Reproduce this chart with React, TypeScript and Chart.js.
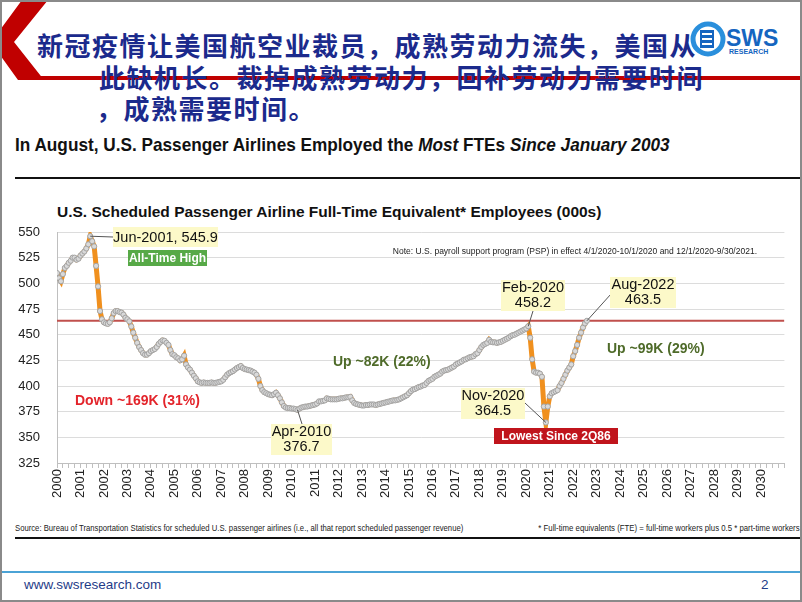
import React, { useEffect, useRef } from 'react';
import { Chart, registerables } from 'chart.js';

Chart.register(...registerables);

// ---- Data (thousands of FTEs, monthly, Jan..Dec) ----
const fte2000 = [510, 505, 502, 509, 515, 517, 520, 522, 525, 525, 523, 524];
const fte2001 = [527, 529, 531, 534, 538, 545.9, 541, 536, 517, 497, 473, 465];
const fte2002 = [462, 461, 460.5, 462, 466, 471, 473, 473, 472, 471.5, 469.5, 466.5];
const fte2003 = [465, 463, 458, 452, 447, 442, 438, 435, 432, 430.5, 430.5, 432];
const fte2004 = [434, 435, 436, 438, 441, 443, 444.5, 444, 442, 440, 435, 431];
const fte2005 = [430, 428, 427, 425, 426, 429.5, 421, 418, 416, 413, 410, 407.5];
const fte2006 = [404.5, 403.5, 403, 403.5, 403, 403, 403, 403.5, 403, 403, 403.5, 404];
const fte2007 = [404.5, 406, 408.5, 411, 412.5, 413.5, 414.5, 416, 417.5, 418.5, 419.5, 417.5];
const fte2008 = [416.5, 416, 415.5, 415, 414, 413, 411, 407, 400, 396, 394, 393];
const fte2009 = [392, 391.5, 391, 392, 393.5, 391, 388, 384, 380.5, 379, 378.5, 378.5];
const fte2010 = [378, 378, 377.5, 376.7, 378, 379, 379.5, 380, 380, 380.5, 381, 381.5];
const fte2011 = [382, 383, 385, 385, 385.5, 386, 388, 387.5, 387, 387, 387, 387];
const fte2012 = [387.5, 388, 388, 388.5, 389, 389, 389.5, 386, 383.5, 382.5, 382, 381.5];
const fte2013 = [381, 381, 381.5, 381.5, 382, 382, 382, 381.5, 382, 382.5, 383, 383.5];
const fte2014 = [384, 384.5, 385, 385.5, 386, 386, 386.5, 387, 388, 389, 390, 391];
const fte2015 = [393, 395, 396.5, 397, 398, 399, 399.5, 400.5, 401, 403, 405, 406];
const fte2016 = [407, 409, 410, 411, 412, 414, 415, 415.5, 416, 417, 418, 419];
const fte2017 = [421, 422, 423, 424, 425.5, 426, 427, 428, 428.5, 429, 431, 432];
const fte2018 = [435, 438, 440, 441, 442, 445, 443, 442.5, 442.5, 442, 442.5, 443];
const fte2019 = [444, 445, 446, 447, 448.5, 449.5, 450, 451, 452, 453, 454, 455];
const fte2020 = [456, 458.2, 447, 426, 414, 413, 413, 412, 409, 380, 364.5, 380];
const fte2021 = [390, 393, 394, 395, 396, 400, 403, 407, 411, 415, 418, 421];
const fte2022 = [429, 434, 440, 447, 452, 457, 461, 463.5];

const yearlySeries: [number, number[]][] = [
  [2000, fte2000], [2001, fte2001], [2002, fte2002], [2003, fte2003], [2004, fte2004],
  [2005, fte2005], [2006, fte2006], [2007, fte2007], [2008, fte2008], [2009, fte2009],
  [2010, fte2010], [2011, fte2011], [2012, fte2012], [2013, fte2013], [2014, fte2014],
  [2015, fte2015], [2016, fte2016], [2017, fte2017], [2018, fte2018], [2019, fte2019],
  [2020, fte2020], [2021, fte2021], [2022, fte2022],
];

const referenceLevel = 463.5; // Aug-2022 level line
const xMin = 2000;
const xMax = 2031;
const yMin = 325;
const yMax = 550;
const yStep = 25;
const lastYearLabel = 2030;

// labelled points
const calloutPoints: { key: string; l1: string; l2: string; year: number; m: number; v: number }[] = [
  { key: 'peak', l1: 'Jun-2001, 545.9', l2: '', year: 2001, m: 5, v: 545.9 },
  { key: 'apr10', l1: 'Apr-2010', l2: '376.7', year: 2010, m: 3, v: 376.7 },
  { key: 'feb20', l1: 'Feb-2020', l2: '458.2', year: 2020, m: 1, v: 458.2 },
  { key: 'nov20', l1: 'Nov-2020', l2: '364.5', year: 2020, m: 10, v: 364.5 },
  { key: 'aug22', l1: 'Aug-2022', l2: '463.5', year: 2022, m: 7, v: 463.5 },
];

const CANVAS_TOP = 190;
const CANVAS_W = 801;
const CANVAS_H = 330;
const FONT = '"Liberation Sans", Arial, sans-serif';

// box layouts in page coordinates
const boxLayout: Record<string, { x: number; y: number; w: number; h: number; lx: number; ly: number }> = {
  peak: { x: 113, y: 227, w: 105, h: 20, lx: 113, ly: 237 },
  apr10: { x: 271, y: 424, w: 61, h: 31, lx: 302, ly: 424 },
  feb20: { x: 501, y: 280, w: 64, h: 31, lx: 533, ly: 311 },
  nov20: { x: 461, y: 388, w: 64, h: 31, lx: 525, ly: 403 },
  aug22: { x: 610, y: 277, w: 66, h: 31, lx: 611, ly: 294 },
};

const calloutPlugin = {
  id: 'callouts',
  afterDatasetsDraw(chart: any) {
    const ctx = chart.ctx as CanvasRenderingContext2D;
    const xs = chart.scales.x;
    const ys = chart.scales.y;
    const T = CANVAS_TOP;
    ctx.save();
    ctx.fillStyle = '#222';
    ctx.font = `8.5px ${FONT}`;
    ctx.textBaseline = 'middle';
    ctx.textAlign = 'right';
    ctx.fillText('Note: U.S. payroll support program (PSP) in effect 4/1/2020-10/1/2020 and 12/1/2020-9/30/2021.', 757, 252 - T);

    for (const c of calloutPoints) {
      const b = boxLayout[c.key];
      const px = xs.getPixelForValue(c.year + c.m / 12);
      const py = ys.getPixelForValue(c.v);
      ctx.strokeStyle = '#555';
      ctx.lineWidth = 1;
      ctx.beginPath();
      ctx.moveTo(px, py);
      ctx.lineTo(b.lx, b.ly - T);
      ctx.stroke();
      ctx.fillStyle = '#FCF9C9';
      ctx.fillRect(b.x, b.y - T, b.w, b.h);
      ctx.fillStyle = '#111';
      ctx.font = `14.5px ${FONT}`;
      ctx.textAlign = 'center';
      ctx.textBaseline = 'middle';
      const cx = b.x + b.w / 2;
      const cy = b.y - T + b.h / 2;
      if (c.l2) {
        ctx.fillText(c.l1, cx, cy - 7.5);
        ctx.fillText(c.l2, cx, cy + 7.5);
      } else {
        ctx.fillText(c.l1, cx, cy + 0.5);
      }
    }

    const tag = (text: string, x: number, y: number, w: number, h: number, fill: string) => {
      ctx.fillStyle = fill;
      ctx.fillRect(x, y - T, w, h);
      ctx.fillStyle = '#fff';
      ctx.font = `bold 12px ${FONT}`;
      ctx.textAlign = 'center';
      ctx.textBaseline = 'middle';
      ctx.fillText(text, x + w / 2, y - T + h / 2 + 0.5);
    };
    tag('All-Time High', 128, 250, 79, 16, '#57A947');
    tag('Lowest Since 2Q86', 494, 428, 124, 16, '#C0141C');

    ctx.textAlign = 'left';
    ctx.textBaseline = 'middle';
    ctx.font = `bold 14px ${FONT}`;
    ctx.fillStyle = '#4F6B2A';
    ctx.fillText('Up ~82K (22%)', 333, 362 - T);
    ctx.fillText('Up ~99K (29%)', 607, 349 - T);
    ctx.fillStyle = '#E3242B';
    ctx.fillText('Down ~169K (31%)', 75, 401 - T);
    ctx.restore();
  },
};

function buildPoints() {
  const pts: { x: number; y: number }[] = [];
  for (const [yr, vals] of yearlySeries) {
    vals.forEach((v, m) => pts.push({ x: yr + m / 12, y: v }));
  }
  return pts;
}

export default function App() {
  const ref = useRef<HTMLCanvasElement>(null);
  useEffect(() => {
    const chart = new Chart(ref.current as HTMLCanvasElement, {
      type: 'line',
      data: {
        datasets: [
          {
            data: buildPoints(),
            borderColor: '#F0901E',
            borderWidth: 5,
            pointRadius: 2.6,
            pointBackgroundColor: '#D9D9D9',
            pointBorderColor: '#A3A3A3',
            pointBorderWidth: 1,
            tension: 0,
            order: 0,
          },
          {
            data: [{ x: xMin, y: referenceLevel }, { x: xMax, y: referenceLevel }],
            borderColor: '#C0504D',
            borderWidth: 2,
            pointRadius: 0,
            order: 1,
          },
        ],
      },
      options: {
        responsive: false,
        animation: false,
        layout: { padding: { top: 42, right: 1, left: 0, bottom: 0 } },
        plugins: { legend: { display: false }, tooltip: { enabled: false } },
        scales: {
          x: {
            type: 'linear',
            min: xMin,
            max: xMax,
            afterFit: (s: any) => { s.height = 57; },
            ticks: {
              stepSize: 0.25,
              maxTicksLimit: 200,
              autoSkip: false,
              minRotation: 90,
              maxRotation: 90,
              padding: 1,
              color: '#222',
              font: { family: FONT, size: 13 },
              callback: (v: any) => (Number.isInteger(v) && v <= lastYearLabel ? String(v) : ''),
            },
            grid: { display: true, drawOnChartArea: false, drawTicks: true, tickLength: 5, color: '#BFBFBF' },
            border: { display: true, color: '#BFBFBF' },
          },
          y: {
            min: yMin,
            max: yMax,
            afterFit: (s: any) => { s.width = 57; },
            ticks: {
              stepSize: yStep,
              padding: 17,
              color: '#222',
              font: { family: FONT, size: 13 },
            },
            grid: { color: '#DCDCDC', drawTicks: false },
            border: { display: true, color: '#BFBFBF' },
          },
        },
      },
      plugins: [calloutPlugin],
    } as any);
    return () => chart.destroy();
  }, []);

  const cn: React.CSSProperties = {
    position: 'absolute',
    fontFamily: '"Noto Sans CJK SC", sans-serif',
    fontSize: 26,
    fontWeight: 'bold',
    letterSpacing: 1.5,
    color: '#1B2A8C',
    lineHeight: '30px',
    whiteSpace: 'nowrap',
  };
  const squeeze = (sx: number): React.CSSProperties => ({ transform: `scaleX(${sx})`, transformOrigin: 'left center' });
  const squeezeR = (sx: number): React.CSSProperties => ({ transform: `scaleX(${sx})`, transformOrigin: 'right center' });

  return (
    <div style={{ position: 'absolute', left: 0, top: 0, width: 802, height: 602, background: '#fff', overflow: 'hidden', fontFamily: FONT }}>
      <svg width={802} height={90} style={{ position: 'absolute', left: 0, top: 0 }}>
        <polygon points="22,0 48,0 14,42 44,80 18,80 0,55 0,30" fill="#C00000" />
        <rect x={30} y={76} width={772} height={4} fill="#C00000" />
      </svg>
      <div style={{ ...cn, left: 37, top: 30 }}>新冠疫情让美国航空业裁员，成熟劳动力流失，美国从</div>
      <div style={{ ...cn, left: 99, top: 62 }}>此缺机长。裁掉成熟劳动力，回补劳动力需要时间</div>
      <div style={{ ...cn, left: 96, top: 93 }}>，成熟需要时间。</div>
      <svg width={110} height={50} style={{ position: 'absolute', left: 684, top: 16 }}>
        <circle cx={24} cy={23} r={17} fill="#fff" />
        <circle cx={24} cy={23} r={15} fill="none" stroke="#2A8FDC" strokeWidth={5} />
        <rect x={16} y={14} width={14} height={18} fill="#1565C0" />
        <rect x={18} y={17} width={10} height={2} fill="#fff" />
        <rect x={18} y={22} width={10} height={2} fill="#fff" />
        <rect x={18} y={27} width={10} height={2} fill="#fff" />
        <text x={42} y={30} fontFamily={FONT} fontWeight="bold" fontSize={23} fill="#1565C0">SWS</text>
        <text x={45} y={38} fontFamily={FONT} fontWeight="bold" fontSize={7} fill="#1565C0">RESEARCH</text>
      </svg>

      <div style={{ position: 'absolute', left: 15, top: 133, fontWeight: 'bold', fontSize: 18.5, color: '#111', whiteSpace: 'nowrap', lineHeight: '24px', ...squeeze(0.93) }}>
        In August, U.S. Passenger Airlines Employed the <i>Most</i> FTEs <i>Since January 2003</i>
      </div>
      <div style={{ position: 'absolute', left: 15, top: 177, width: 787, height: 2, background: '#111' }} />
      <div style={{ position: 'absolute', left: 57, top: 202, fontWeight: 'bold', fontSize: 15.5, color: '#111', whiteSpace: 'nowrap', lineHeight: '20px' }}>
        U.S. Scheduled Passenger Airline Full-Time Equivalent* Employees (000s)
      </div>

      <canvas ref={ref} width={CANVAS_W} height={CANVAS_H} style={{ position: 'absolute', left: 0, top: CANVAS_TOP, width: CANVAS_W, height: CANVAS_H }} />

      <div style={{ position: 'absolute', left: 15, top: 522, fontSize: 9.5, color: '#222', whiteSpace: 'nowrap', lineHeight: '12px', ...squeeze(0.81) }}>
        Source: Bureau of Transportation Statistics for scheduled U.S. passenger airlines (i.e., all that report scheduled passenger revenue)
      </div>
      <div style={{ position: 'absolute', right: 2, top: 522, fontSize: 9.5, color: '#222', whiteSpace: 'nowrap', lineHeight: '12px', ...squeezeR(0.82) }}>
        * Full-time equivalents (FTE) = full-time workers plus 0.5 * part-time workers
      </div>
      <div style={{ position: 'absolute', left: 15, top: 537, width: 787, height: 2, background: '#111' }} />
      <div style={{ position: 'absolute', left: 0, top: 571, width: 802, height: 2, background: '#4BA3D6' }} />
      <div style={{ position: 'absolute', left: 24, top: 576, fontSize: 13.5, color: '#1F3C88', lineHeight: '18px' }}>www.swsresearch.com</div>
      <div style={{ position: 'absolute', left: 761, top: 576, fontSize: 13.5, color: '#1F3C88', lineHeight: '18px' }}>2</div>
      <div style={{ position: 'absolute', left: 0, top: 0, width: 802, height: 602, boxSizing: 'border-box', border: '2px solid #8A8A8A', pointerEvents: 'none' }} />
    </div>
  );
}
